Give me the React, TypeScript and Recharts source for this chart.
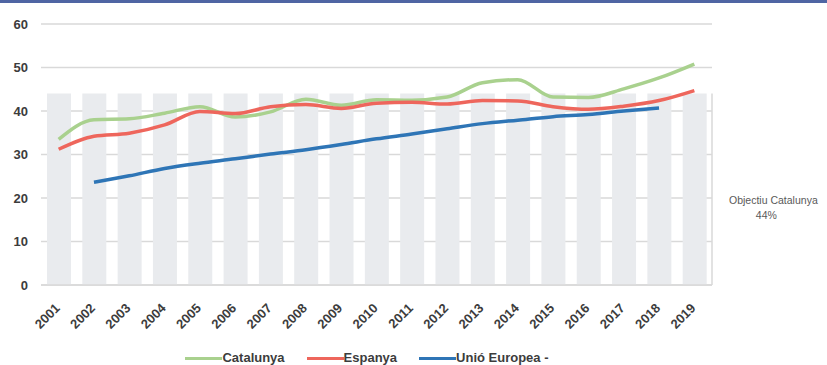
import React from "react";
import {
  ComposedChart,
  Bar,
  Line,
  XAxis,
  YAxis,
  CartesianGrid,
  Legend,
  ReferenceLine,
} from "recharts";

const years = [
  "2001", "2002", "2003", "2004", "2005", "2006", "2007", "2008", "2009", "2010",
  "2011", "2012", "2013", "2014", "2015", "2016", "2017", "2018", "2019",
];
const catalunya = [
  33.5, 38.0, 38.2, 39.5, 41.0, 38.6, 39.8, 42.7, 41.3, 42.6,
  42.5, 43.2, 46.5, 47.2, 43.2, 43.1, 45.1, 47.6, 50.8,
];
const espanya = [
  31.2, 34.2, 34.9, 36.8, 39.9, 39.4, 41.0, 41.5, 40.6, 41.8,
  42.0, 41.6, 42.4, 42.3, 41.0, 40.4, 41.1, 42.4, 44.7,
];
const uniEuropea = [
  null, 23.6, 25.1, 26.8, 28.0, 29.0, 30.1, 31.1, 32.3, 33.6,
  34.7, 35.9, 37.1, 37.9, 38.7, 39.2, 40.0, 40.7, null,
];
const objectiu = 44;
const yTicks = [0, 10, 20, 30, 40, 50, 60];

const data = years.map((year, i) => ({
  year,
  objectiu,
  catalunya: catalunya[i],
  espanya: espanya[i],
  ue: uniEuropea[i],
}));

const FONT = '"Liberation Sans", Arial, sans-serif';
const TEXT = "#3c3c3c";

const YearTick = (props: any) => {
  const { x, y, payload } = props;
  return (
    <g transform={`translate(${x + 2},${y + 16})`}>
      <text
        x={0}
        y={0}
        textAnchor="end"
        transform="rotate(-45)"
        fontFamily={FONT}
        fontWeight="bold"
        fontSize={13}
        fill={TEXT}
      >
        {payload.value}
      </text>
    </g>
  );
};

const LegendContent = (props: any) => {
  const items = (props.payload || []).filter((p: any) => p.dataKey !== "objectiu");
  return (
    <div
      style={{
        display: "flex",
        justifyContent: "center",
        paddingLeft: 22,
        height: 14,
        lineHeight: "14px",
        fontFamily: FONT,
        fontWeight: "bold",
        fontSize: 13,
        color: TEXT,
        gap: 22,
      }}
    >
      {items.map((it: any) => (
        <div key={it.value} style={{ display: "flex", alignItems: "center" }}>
          <span
            style={{
              display: "inline-block",
              width: 37,
              height: 3,
              background: it.color,
            }}
          />
          <span>{it.value}</span>
        </div>
      ))}
    </div>
  );
};

export default function App() {
  const lastYear = years[years.length - 1];
  return (
    <div
      style={{
        position: "absolute",
        left: 0,
        top: 0,
        width: 827,
        height: 365,
        overflow: "hidden",
        background: "#fff",
      }}
    >
      <div style={{ position: "absolute", left: 0, top: 0, width: 827, height: 3, background: "#4f65a3" }} />
      <ComposedChart
        width={827}
        height={365}
        data={data}
        margin={{ top: 24, right: 115, left: 0, bottom: 0 }}
      >
        <CartesianGrid vertical={false} stroke="#d9d9d9" strokeWidth={1.5} />
        <XAxis
          dataKey="year"
          interval={0}
          height={66}
          axisLine={{ stroke: "#d9d9d9", strokeWidth: 1.5 }}
          tickLine={false}
          tick={<YearTick />}
        />
        <YAxis
          width={41}
          domain={[0, 60]}
          ticks={yTicks}
          axisLine={false}
          tickLine={false}
          tickSize={0}
          tickMargin={13}
          tick={{ fontFamily: FONT, fontWeight: "bold", fontSize: 13, fill: TEXT }}
        />
        <Bar
          dataKey="objectiu"
          name="Objectiu Catalunya 44%"
          fill="#e9ebee"
          barSize={24}
          legendType="none"
          isAnimationActive={false}
        />
        <ReferenceLine
          segment={[{ x: lastYear, y: 0 }, { x: lastYear, y: objectiu }]}
          position="end"
          stroke="#d9d9d9"
          strokeWidth={1.5}
        />
        <Line
          type="monotone"
          dataKey="catalunya"
          name="Catalunya"
          stroke="#a9d18e"
          strokeWidth={3.5}
          dot={false}
          isAnimationActive={false}
        />
        <Line
          type="monotone"
          dataKey="espanya"
          name="Espanya"
          stroke="#ee665c"
          strokeWidth={3.5}
          dot={false}
          isAnimationActive={false}
        />
        <Line
          type="monotone"
          dataKey="ue"
          name="Unió Europea -"
          stroke="#2e75b6"
          strokeWidth={3.5}
          dot={false}
          isAnimationActive={false}
        />
        <Legend verticalAlign="bottom" content={<LegendContent />} />
      </ComposedChart>
      <div
        style={{
          position: "absolute",
          left: 729,
          top: 193,
          fontFamily: FONT,
          fontSize: 10.5,
          lineHeight: "15px",
          color: "#595959",
          whiteSpace: "nowrap",
        }}
      >
        <div>Objectiu Catalunya</div>
        <div style={{ textAlign: "center", paddingRight: 14 }}>44%</div>
      </div>
    </div>
  );
}
